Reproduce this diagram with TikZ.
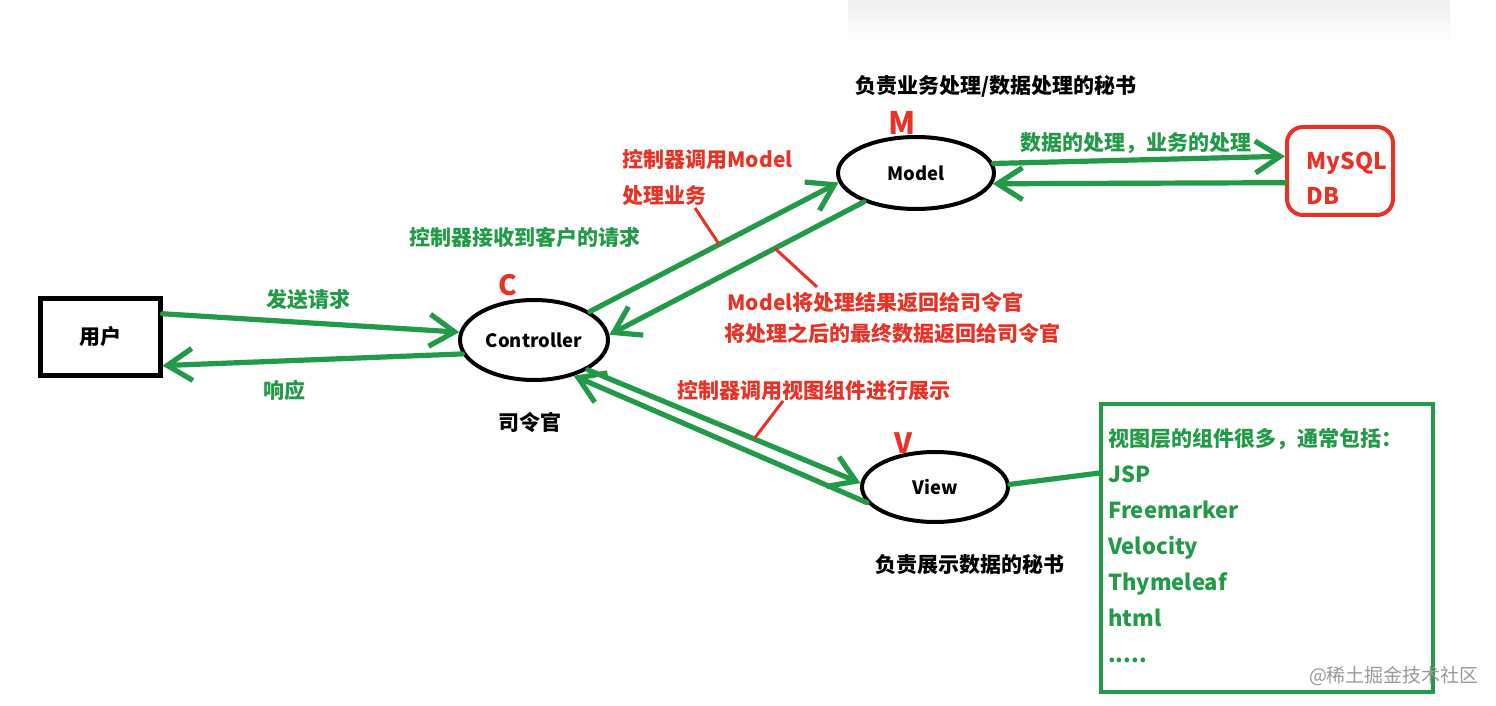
\documentclass[tikz,border=0pt]{standalone}
\usepackage{fontspec}
\setmainfont{Noto Sans CJK SC}
\usetikzlibrary{arrows.meta,shapes.geometric,positioning}
\definecolor{mvcgreen}{RGB}{34,154,72}
\definecolor{mvcred}{RGB}{232,50,38}
\tikzset{
  layer/.style={draw, ellipse, line width=2pt, inner sep=0pt, font=\bfseries\fontsize{9.2}{11}\selectfont},
  flow/.style={draw=mvcgreen, line width=2.6pt, line cap=round, -{Straight Barb[length=12.5pt,width=16pt]}},
  glabel/.style={text=mvcgreen, inner sep=0pt, font=\bfseries\fontsize{10.5}{12}\selectfont},
  rlabel/.style={text=mvcred, inner sep=0pt, font=\bfseries\fontsize{10.5}{12}\selectfont},
  blabel/.style={text=black, inner sep=0pt, font=\bfseries\fontsize{10.5}{12}\selectfont},
  letter/.style={text=mvcred, inner sep=0pt, font=\bfseries\fontsize{14}{16}\selectfont},
  pointer/.style={draw=mvcred, line width=1.5pt},
}
\begin{document}
\begin{tikzpicture}[x=0.5pt,y=-0.5pt]
  \useasboundingbox (0,0) rectangle (1496,706);
  \shade[top color=black!6, bottom color=white] (848,0) rectangle (1450,45);

  % the four boxes
  \node[draw, line width=2.5pt, minimum width=60pt, minimum height=38.5pt,
        font=\bfseries\fontsize{10.5}{12}\selectfont] (user) at (100,336.5) {用户};
  \node[layer, minimum width=74pt, minimum height=40pt] (ctrl) at (534,340) {Controller};
  \node[layer, minimum width=78pt, minimum height=36pt] (model) at (916,173) {Model};
  \node[layer, minimum width=73pt, minimum height=35pt] (view) at (935,487) {View};
  \node[draw=mvcred, line width=2pt, rounded corners=8pt,
        minimum width=53pt, minimum height=44pt] (db) at (1340,171) {};
  \node[rlabel, anchor=west, align=left, font=\bfseries\fontsize{11.5}{17.5}\selectfont]
        (dbtext) at (1306,178) {MySQL\\DB};
  \node[draw=mvcgreen, line width=2.2pt, minimum width=166pt, minimum height=144pt] (vbox) at (1267,548) {};
  \node[glabel, anchor=north west, align=left, xshift=4.5pt, yshift=-13pt,
        font=\bfseries\fontsize{11}{18}\selectfont] (vlist) at (vbox.north west)
        {{\fontsize{10.5}{18}\selectfont 视图层的组件很多，通常包括：}\\JSP\\Freemarker\\Velocity\\Thymeleaf\\html\\.....};

  % letters and captions
  \node[letter] (cc) at (508,285) {C};
  \node[letter, font=\bfseries\fontsize{15.5}{17}\selectfont] (mm) at (902,123) {M};
  \node[letter] (vv) at (903,443) {V};
  \node[blabel] (boss) at (530,422) {司令官};
  \node[blabel] (msec) at (996,86) {负责业务处理/数据处理的秘书};
  \node[blabel] (vsec) at (970,565) {负责展示数据的秘书};

  % arrows
  \draw[flow] (user.20) -- (ctrl.174);
  \draw[flow] (ctrl.191) -- (user.-25);
  \draw[flow] (ctrl.27) -- coordinate[pos=0.52] (upm) (model.187);
  \draw[flow] (model.209) -- coordinate[pos=0.35] (downm) (ctrl.4);
  \draw[flow] (model.7) -- (db.165);
  \draw[flow] (db.192) -- (model.-8);
  \draw[flow] (ctrl.-29) -- coordinate[pos=0.61] (upv) (view.177);
  \draw[flow] (view.193) -- (ctrl.-42);
  \draw[draw=mvcgreen, line width=2.6pt, line cap=round] (view.2) -- (vbox.156);

  % labels on the arrows
  \node[glabel] (req) at (308,300) {发送请求};
  \node[glabel] (resp) at (284,390) {响应};
  \node[glabel] (recv) at (525,237) {控制器接收到客户的请求};
  \node[rlabel, anchor=west] (callm) at (622,160) {控制器调用Model};
  \node[rlabel, anchor=west] (biz) at (622,196) {处理业务};
  \node[rlabel, anchor=west] (ret1) at (727,302) {Model将处理结果返回给司令官};
  \node[rlabel, anchor=west] (ret2) at (724,333) {将处理之后的最终数据返回给司令官};
  \node[glabel] (dbop) at (1136,143) {数据的处理，业务的处理};
  \node[rlabel] (callv) at (814,391) {控制器调用视图组件进行展示};

  \coordinate (bizend) at (695,208);
  \coordinate (retend) at (817,287);
  \coordinate (callvend) at (783,401);
  \draw[pointer] (bizend) -- (upm);
  \draw[pointer] (retend) -- (downm);
  \draw[pointer] (callvend) -- (upv);

  \node[text=black!40, inner sep=0pt, font=\fontsize{9.5}{11}\selectfont] (mark) at (1394,676) {@稀土掘金技术社区};
\end{tikzpicture}
\end{document}
